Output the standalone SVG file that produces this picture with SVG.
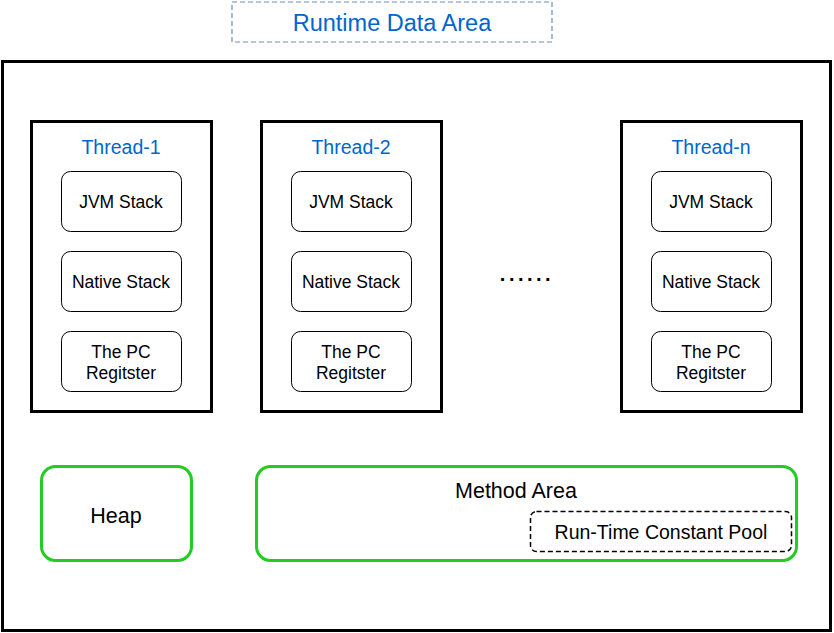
<svg xmlns="http://www.w3.org/2000/svg" width="834" height="633" viewBox="0 0 834 633">
<style>
text{font-family:"Liberation Sans",Arial,sans-serif;text-anchor:middle;dominant-baseline:central}
.thread{fill:#fff;stroke:#000;stroke-width:3}
.tl{fill:#0066CC;font-size:19.5px}
.inner{fill:#fff;stroke:#000;stroke-width:1}
.it{fill:#000;font-size:17.5px}
.green{fill:#fff;stroke:#22CC22;stroke-width:3}
</style>
<rect width="834" height="633" fill="#fff"/>
<g id="title">
<rect x="232" y="2" width="320" height="40" fill="#fff" stroke="#6C8EBF" stroke-width="1.2" stroke-dasharray="5 3"/>
<text x="392" y="22.5" style="fill:#0066CC;font-size:23.5px">Runtime Data Area</text>
</g>
<g id="runtime-area">
<rect x="2.5" y="61.5" width="828" height="569" fill="#fff" stroke="#000" stroke-width="3"/>
</g>
<g id="thread-1">
<rect class="thread" x="31.5" y="121.5" width="180" height="290"/>
<text class="tl" x="121" y="147">Thread-1</text>
<rect class="inner" x="61.5" y="171.5" width="120" height="60" rx="9"/>
<text class="it" x="121" y="202">JVM Stack</text>
<rect class="inner" x="61.5" y="251.5" width="120" height="60" rx="9"/>
<text class="it" x="121" y="282">Native Stack</text>
<rect class="inner" x="61.5" y="331.5" width="120" height="60" rx="9"/>
<text class="it" x="121" y="352">The PC</text>
<text class="it" x="121" y="373">Regitster</text>
</g>
<g id="thread-2">
<rect class="thread" x="261.5" y="121.5" width="180" height="290"/>
<text class="tl" x="351" y="147">Thread-2</text>
<rect class="inner" x="291.5" y="171.5" width="120" height="60" rx="9"/>
<text class="it" x="351" y="202">JVM Stack</text>
<rect class="inner" x="291.5" y="251.5" width="120" height="60" rx="9"/>
<text class="it" x="351" y="282">Native Stack</text>
<rect class="inner" x="291.5" y="331.5" width="120" height="60" rx="9"/>
<text class="it" x="351" y="352">The PC</text>
<text class="it" x="351" y="373">Regitster</text>
</g>
<g id="ellipsis">
<text x="527" y="274" style="fill:#000;font-size:20px;font-weight:bold;letter-spacing:3.5px">......</text>
</g>
<g id="thread-n">
<rect class="thread" x="621.5" y="121.5" width="180" height="290"/>
<text class="tl" x="711" y="147">Thread-n</text>
<rect class="inner" x="651.5" y="171.5" width="120" height="60" rx="9"/>
<text class="it" x="711" y="202">JVM Stack</text>
<rect class="inner" x="651.5" y="251.5" width="120" height="60" rx="9"/>
<text class="it" x="711" y="282">Native Stack</text>
<rect class="inner" x="651.5" y="331.5" width="120" height="60" rx="9"/>
<text class="it" x="711" y="352">The PC</text>
<text class="it" x="711" y="373">Regitster</text>
</g>
<g id="heap">
<rect class="green" x="41.5" y="466.5" width="150" height="94" rx="14"/>
<text x="116" y="516" style="fill:#000;font-size:21.5px">Heap</text>
</g>
<g id="method-area">
<rect class="green" x="256.5" y="466.5" width="540" height="94" rx="14"/>
<text x="516" y="491" style="fill:#000;font-size:21.5px">Method Area</text>
</g>
<g id="constant-pool">
<rect x="530.5" y="511.5" width="261" height="40" rx="6" fill="#fff" stroke="#000" stroke-width="1.5" stroke-dasharray="5 3"/>
<text x="661" y="532" style="fill:#000;font-size:19.5px">Run-Time Constant Pool</text>
</g>
<g id="connectors"></g>
</svg>
